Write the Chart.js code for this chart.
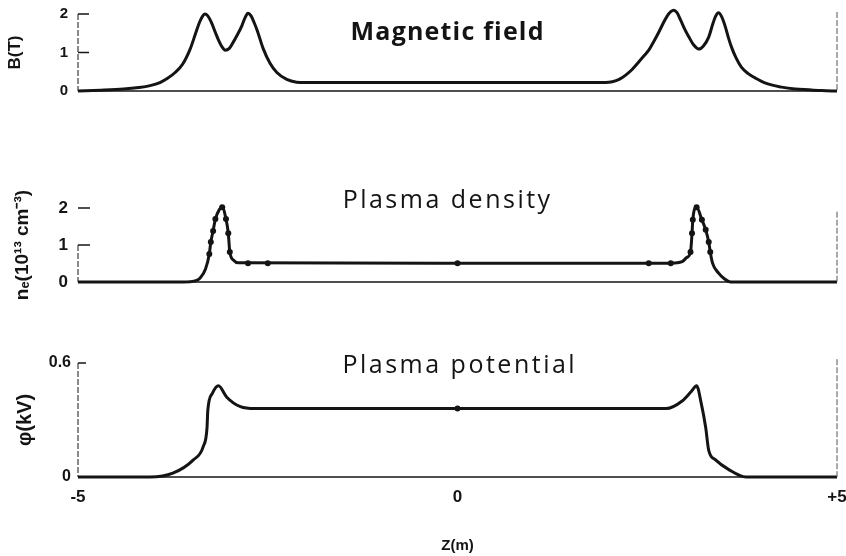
<!DOCTYPE html>
<html>
<head>
<meta charset="utf-8">
<script src="https://cdn.jsdelivr.net/npm/chart.js@4.4.1/dist/chart.umd.min.js"></script>
<style>
  html, body { margin: 0; padding: 0; background: #fff; }
  #wrap { position: relative; width: 846px; height: 556px; background: #fff; }
  #wrap canvas { position: absolute; left: 0; top: 0; }
</style>
</head>
<body>
<div id="wrap">
  <canvas id="cField" width="846" height="556"></canvas>
  <canvas id="cDensity" width="846" height="556"></canvas>
  <canvas id="cPotential" width="846" height="556"></canvas>
</div>
<script>
// Axial position z (m) and on-axis magnetic field B (T)
const zField = [-5.00, -4.70, -4.40, -4.20, -4.05, -3.92, -3.82, -3.72, -3.62, -3.52, -3.45, -3.40, -3.36,
  -3.33, -3.29, -3.24, -3.19, -3.15, -3.10, -3.06, -3.01, -2.96, -2.90, -2.84, -2.80, -2.76, -2.72, -2.68,
  -2.64, -2.56, -2.47, -2.38, -2.25, -2.12, -2.00, 0.00, 1.95, 2.04, 2.13, 2.22, 2.30, 2.39, 2.46, 2.52,
  2.59, 2.65, 2.71, 2.76, 2.81, 2.85, 2.89, 2.94, 3.00, 3.05, 3.11, 3.18, 3.24, 3.31, 3.36, 3.40, 3.44,
  3.48, 3.53, 3.57, 3.61, 3.67, 3.74, 3.83, 3.92, 4.05, 4.27, 4.45, 4.63, 4.80, 5.00];
const bField = [0.00, 0.02, 0.05, 0.09, 0.14, 0.22, 0.33, 0.48, 0.70, 1.10, 1.50, 1.78, 1.94,
  2.00, 1.95, 1.77, 1.52, 1.33, 1.14, 1.06, 1.10, 1.25, 1.46, 1.70, 1.90, 2.02, 1.95, 1.78,
  1.58, 1.10, 0.72, 0.48, 0.30, 0.23, 0.22, 0.22, 0.22, 0.24, 0.30, 0.42, 0.56, 0.76, 0.92, 1.06,
  1.30, 1.52, 1.76, 1.94, 2.06, 2.10, 2.04, 1.84, 1.58, 1.40, 1.20, 1.09, 1.17, 1.40, 1.72, 1.94, 2.03,
  1.93, 1.66, 1.38, 1.14, 0.86, 0.62, 0.45, 0.34, 0.21, 0.10, 0.05, 0.03, 0.01, 0.00];

// Electron density n_e (10^13 cm^-3): fitted profile and measured points
const zDensity = [-5.00, -3.61, -3.46, -3.39, -3.32, -3.27, -3.25, -3.22, -3.19, -3.14, -3.10, -3.05, -3.02,
  -3.00, -2.95, -2.89, 0.00, 2.81, 2.96, 3.02, 3.07, 3.09, 3.10, 3.15, 3.22, 3.27, 3.31, 3.33, 3.36, 3.44,
  3.52, 3.60, 5.00];
const nDensity = [0.00, 0.00, 0.03, 0.11, 0.35, 0.76, 1.08, 1.38, 1.70, 1.95, 2.02, 1.70, 1.32,
  0.81, 0.59, 0.52, 0.51, 0.51, 0.55, 0.66, 0.81, 1.32, 1.68, 2.02, 1.68, 1.41, 1.08, 0.81, 0.51, 0.24,
  0.08, 0.00, 0.00];
const zDensityPts = [-3.27, -3.25, -3.22, -3.19, -3.10, -3.05, -3.02, -3.00, -2.76, -2.50, 0.00,
  2.52, 2.81, 3.07, 3.09, 3.10, 3.15, 3.22, 3.27, 3.31, 3.33];
const nDensityPts = [0.76, 1.08, 1.38, 1.70, 2.02, 1.70, 1.32, 0.81, 0.51, 0.51, 0.51,
  0.51, 0.51, 0.81, 1.32, 1.68, 2.02, 1.68, 1.41, 1.08, 0.81];

// Plasma potential phi (kV)
const zPotential = [-5.00, -4.05, -3.75, -3.48, -3.35, -3.30, -3.29, -3.23, -3.15, -3.04, -2.86, -2.67,
  0.00, 2.75, 2.96, 3.08, 3.15, 3.21, 3.27, 3.31, 3.40, 3.57, 3.80, 5.00];
const phiPotential = [0.00, 0.00, 0.02, 0.09, 0.16, 0.26, 0.35, 0.44, 0.48, 0.42, 0.37, 0.36,
  0.36, 0.36, 0.40, 0.45, 0.48, 0.39, 0.26, 0.14, 0.09, 0.04, 0.00, 0.00];
const zPotentialPts = [0.00];
const phiPotentialPts = [0.36];

// Axis ticks and labels
const zTicks = [-5, 0, 5];
const zTickLabels = ['-5', '0', '+5'];
const fieldTicks = [0, 1, 2];
const densityTicks = [0, 1, 2];
const potentialTicks = [0, 0.6];
const potentialTickLabels = ['0', '0.6'];
const panelTitles = ['Magnetic field', 'Plasma density', 'Plasma potential'];
const axisTitles = ['B(T)', 'nₑ(10¹³ cm⁻³)', 'φ(kV)', 'Z(m)'];

const INK = '#141414';
const LABEL_FONT = '"Liberation Sans", Arial, sans-serif';
const TITLE_FONT = '"Open Sans", "Noto Sans", sans-serif';

function toPoints(xs, ys) { return xs.map((x, i) => ({ x, y: ys[i] })); }

// Frame: baseline, inward tick marks, broken side rules and the panel caption
const framePlugin = {
  id: 'frame',
  afterDatasetsDraw(chart, args, o) {
    const { ctx, chartArea: a, scales: { x, y } } = chart;
    const line = (x1, y1, x2, y2) => { ctx.beginPath(); ctx.moveTo(x1, y1); ctx.lineTo(x2, y2); ctx.stroke(); };
    ctx.save();
    ctx.strokeStyle = INK;
    const y0 = y.getPixelForValue(0);
    ctx.lineWidth = 1.4;
    line(a.left, y0, a.right, y0);
    ctx.lineWidth = 1;
    ctx.setLineDash([6, 2]);
    line(a.left, y.getPixelForValue(o.axisTop), a.left, y0);
    ctx.strokeStyle = '#555';
    line(a.right, y.getPixelForValue(o.rightTop), a.right, y0);
    ctx.setLineDash([]);
    ctx.strokeStyle = INK;
    ctx.lineWidth = 1.5;
    for (const v of o.ticks) {
      if (v === 0) continue;
      const p = y.getPixelForValue(v);
      line(a.left, p, a.left + o.tickLen, p);
    }
    ctx.fillStyle = INK;
    ctx.font = o.captionFont;
    if ('letterSpacing' in ctx) ctx.letterSpacing = o.captionSpacing;
    ctx.textAlign = 'center';
    ctx.textBaseline = 'alphabetic';
    ctx.fillText(o.caption, x.getPixelForValue(o.captionAt[0]), y.getPixelForValue(o.captionAt[1]));
    ctx.restore();
  }
};

function makePanel(id, cfg) {
  const showX = !!cfg.showX;
  return new Chart(document.getElementById(id), {
    type: 'line',
    data: { datasets: cfg.datasets },
    options: {
      responsive: false,
      animation: false,
      events: [],
      layout: { padding: { top: cfg.padTop, bottom: cfg.padBottom, left: 0, right: 9 } },
      plugins: { legend: { display: false }, tooltip: { enabled: false }, frame: cfg.frame },
      scales: {
        x: {
          type: 'linear', min: -5, max: 5, display: showX,
          afterBuildTicks(s) { s.ticks = zTicks.map(v => ({ value: v })); },
          afterFit(s) {
            if (showX) s.height = 79;
            s.paddingLeft = 0; s.paddingRight = 0;
          },
          grid: { display: false, drawTicks: false },
          border: { display: false },
          ticks: {
            padding: 10, color: INK, maxRotation: 0,
            font: { family: LABEL_FONT, size: 17, weight: 'bold' },
            callback: v => zTickLabels[zTicks.indexOf(v)]
          },
          title: {
            display: true, text: axisTitles[3], color: INK,
            font: { family: LABEL_FONT, size: 15, weight: 'bold' },
            padding: { top: 0, bottom: 1 }
          }
        },
        y: {
          type: 'linear', min: 0, max: cfg.yMax,
          afterBuildTicks(s) { s.ticks = cfg.yTicks.map(v => ({ value: v })); },
          afterFit(s) { s.width = 78; s.paddingTop = 0; s.paddingBottom = 0; },
          grid: { display: false, drawTicks: false },
          border: { display: false },
          ticks: {
            padding: cfg.tickPad, color: INK,
            font: { family: LABEL_FONT, size: cfg.tickSize, weight: 'bold' },
            callback: cfg.tickLabel
          },
          title: {
            display: true, text: cfg.yTitle, color: INK,
            font: { family: LABEL_FONT, size: cfg.yTitleSize, weight: 'bold' },
            padding: { top: cfg.yTitlePad, bottom: 0 }
          }
        }
      }
    },
    plugins: [framePlugin]
  });
}

const curveStyle = {
  borderColor: INK, borderWidth: 3, pointRadius: 0, fill: false,
  cubicInterpolationMode: 'monotone', clip: false
};
const dotStyle = {
  showLine: false, pointRadius: 3, pointBackgroundColor: INK, pointBorderColor: INK,
  pointBorderWidth: 0, clip: false
};

makePanel('cField', {
  padTop: 14, padBottom: 556 - 91, yMax: 2, yTicks: fieldTicks,
  tickPad: 10, tickSize: 15, tickLabel: v => String(v),
  yTitle: axisTitles[0], yTitleSize: 17, yTitlePad: 5,
  datasets: [{ ...curveStyle, data: toPoints(zField, bField) }],
  frame: { axisTop: 2, rightTop: 2.05, ticks: fieldTicks, tickLen: 11,
    caption: panelTitles[0], captionFont: `700 25px ${TITLE_FONT}`, captionSpacing: '1.2px',
    captionAt: [-0.13, 1.32] }
});

makePanel('cDensity', {
  padTop: 208, padBottom: 556 - 282, yMax: 2, yTicks: densityTicks,
  tickPad: 10, tickSize: 17, tickLabel: v => String(v),
  yTitle: axisTitles[1], yTitleSize: 19, yTitlePad: 11,
  datasets: [
    { ...curveStyle, data: toPoints(zDensity, nDensity) },
    { ...dotStyle, data: toPoints(zDensityPts, nDensityPts) }
  ],
  frame: { axisTop: 1, rightTop: 1.9, ticks: densityTicks, tickLen: 12,
    caption: panelTitles[1], captionFont: `400 25px ${TITLE_FONT}`, captionSpacing: '2.5px',
    captionAt: [-0.13, 2.0] }
});

makePanel('cPotential', {
  showX: true, padTop: 363, padBottom: 0, yMax: 0.6, yTicks: potentialTicks,
  tickPad: 7, tickSize: 16, tickLabel: v => potentialTickLabels[potentialTicks.indexOf(v)],
  yTitle: axisTitles[2], yTitleSize: 20, yTitlePad: 13,
  datasets: [
    { ...curveStyle, data: toPoints(zPotential, phiPotential) },
    { ...dotStyle, data: toPoints(zPotentialPts, phiPotentialPts) }
  ],
  frame: { axisTop: 0.6, rightTop: 0.62, ticks: potentialTicks, tickLen: 8,
    caption: panelTitles[2], captionFont: `400 25px ${TITLE_FONT}`, captionSpacing: '2.5px',
    captionAt: [0.03, 0.547] }
});
</script>
</body>
</html>
